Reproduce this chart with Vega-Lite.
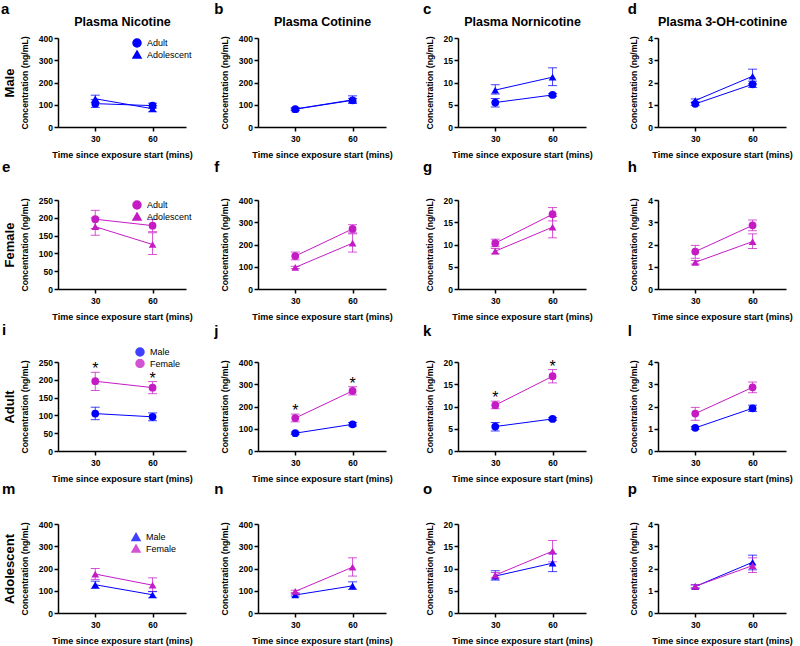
{
"$schema": "https://vega.github.io/schema/vega-lite/v6.json",
"padding": {"left": 1, "top": 2, "right": 5, "bottom": 3},
"data": {"values": [
{"analyte":"Nicotine","sex":"Male","age":"Adult","time":30,"mean":105,"lo":88,"hi":123},
{"analyte":"Nicotine","sex":"Male","age":"Adult","time":60,"mean":96,"lo":85,"hi":107},
{"analyte":"Nicotine","sex":"Male","age":"Adolescent","time":30,"mean":127,"lo":110,"hi":143},
{"analyte":"Nicotine","sex":"Male","age":"Adolescent","time":60,"mean":82,"lo":68,"hi":96},
{"analyte":"Nicotine","sex":"Female","age":"Adult","time":30,"mean":196,"lo":170,"hi":221,"sig":"*"},
{"analyte":"Nicotine","sex":"Female","age":"Adult","time":60,"mean":178,"lo":161,"hi":195,"sig":"*"},
{"analyte":"Nicotine","sex":"Female","age":"Adolescent","time":30,"mean":175,"lo":151,"hi":200},
{"analyte":"Nicotine","sex":"Female","age":"Adolescent","time":60,"mean":125,"lo":97,"hi":158},
{"analyte":"Cotinine","sex":"Male","age":"Adult","time":30,"mean":80,"lo":75,"hi":85},
{"analyte":"Cotinine","sex":"Male","age":"Adult","time":60,"mean":120,"lo":112,"hi":128},
{"analyte":"Cotinine","sex":"Male","age":"Adolescent","time":30,"mean":81,"lo":76,"hi":86},
{"analyte":"Cotinine","sex":"Male","age":"Adolescent","time":60,"mean":122,"lo":106,"hi":140},
{"analyte":"Cotinine","sex":"Female","age":"Adult","time":30,"mean":148,"lo":131,"hi":166,"sig":"*"},
{"analyte":"Cotinine","sex":"Female","age":"Adult","time":60,"mean":270,"lo":252,"hi":289,"sig":"*"},
{"analyte":"Cotinine","sex":"Female","age":"Adolescent","time":30,"mean":97,"lo":92,"hi":102},
{"analyte":"Cotinine","sex":"Female","age":"Adolescent","time":60,"mean":206,"lo":166,"hi":248},
{"analyte":"Nornicotine","sex":"Male","age":"Adult","time":30,"mean":5.5,"lo":4.5,"hi":6.4},
{"analyte":"Nornicotine","sex":"Male","age":"Adult","time":60,"mean":7.2,"lo":6.9,"hi":7.5},
{"analyte":"Nornicotine","sex":"Male","age":"Adolescent","time":30,"mean":8.3,"lo":7.4,"hi":9.5},
{"analyte":"Nornicotine","sex":"Male","age":"Adolescent","time":60,"mean":11.2,"lo":9.3,"hi":13.3},
{"analyte":"Nornicotine","sex":"Female","age":"Adult","time":30,"mean":10.3,"lo":9.5,"hi":11.2,"sig":"*"},
{"analyte":"Nornicotine","sex":"Female","age":"Adult","time":60,"mean":16.8,"lo":15.3,"hi":18.3,"sig":"*"},
{"analyte":"Nornicotine","sex":"Female","age":"Adolescent","time":30,"mean":8.5,"lo":7.9,"hi":9.1},
{"analyte":"Nornicotine","sex":"Female","age":"Adolescent","time":60,"mean":13.9,"lo":11.5,"hi":16.3},
{"analyte":"OHCot","sex":"Male","age":"Adult","time":30,"mean":1.04,"lo":0.98,"hi":1.1},
{"analyte":"OHCot","sex":"Male","age":"Adult","time":60,"mean":1.92,"lo":1.78,"hi":2.06},
{"analyte":"OHCot","sex":"Male","age":"Adolescent","time":30,"mean":1.19,"lo":1.12,"hi":1.26},
{"analyte":"OHCot","sex":"Male","age":"Adolescent","time":60,"mean":2.28,"lo":1.94,"hi":2.6},
{"analyte":"OHCot","sex":"Female","age":"Adult","time":30,"mean":1.68,"lo":1.38,"hi":1.96},
{"analyte":"OHCot","sex":"Female","age":"Adult","time":60,"mean":2.86,"lo":2.62,"hi":3.1},
{"analyte":"OHCot","sex":"Female","age":"Adolescent","time":30,"mean":1.2,"lo":1.12,"hi":1.28},
{"analyte":"OHCot","sex":"Female","age":"Adolescent","time":60,"mean":2.13,"lo":1.82,"hi":2.48}
]},
"columns": 4,
"spacing": {"row": 73, "column": 72},
"bounds": "flush",
"resolve": {"scale": {"color": "independent", "shape": "independent"}, "legend": {"color": "independent", "shape": "independent"}},
"concat": [
{"width":128,"height":89,"title":{"text":"a","dx":-2,"offset":-2},
"transform":[{"filter":"datum.analyte==='Nicotine' && datum.sex==='Male'"}],
"resolve":{"axis":{"x":"independent","y":"independent"}},
"layer":[
{"mark":{"type":"rule","strokeWidth":1,"opacity":0.75},"encoding":{"x":{"field":"time","type":"quantitative","scale":{"domain":[10.5,77.5],"nice":false,"zero":false},"axis":{"values":[30,60],"title":"Time since exposure start (mins)"}},"y":{"field":"lo","type":"quantitative","scale":{"domain":[0,400],"nice":false},"axis":{"values":[0,100,200,300,400],"title":"Concentration (ng/mL)"}},"y2":{"field":"hi"},"color":{"field":"sex","type":"nominal","scale":{"domain":["Male","Female"],"range":["#0000ff","#c51bc5"]},"legend":null}}},
{"mark":{"type":"tick","orient":"horizontal","size":9,"thickness":1,"opacity":0.75},"encoding":{"x":{"field":"time","type":"quantitative","axis":null},"y":{"field":"lo","type":"quantitative","axis":null},"color":{"field":"sex","type":"nominal","legend":null}}},
{"mark":{"type":"tick","orient":"horizontal","size":9,"thickness":1,"opacity":0.75},"encoding":{"x":{"field":"time","type":"quantitative","axis":null},"y":{"field":"hi","type":"quantitative","axis":null},"color":{"field":"sex","type":"nominal","legend":null}}},
{"mark":{"type":"line","strokeWidth":1},"encoding":{"x":{"field":"time","type":"quantitative","axis":null},"y":{"field":"mean","type":"quantitative","axis":null},"color":{"field":"sex","type":"nominal","legend":null},"detail":{"field":"age"}}},
{"mark":{"type":"point","filled":true,"size":60,"opacity":1},"encoding":{"x":{"field":"time","type":"quantitative","axis":{"orient":"top","title":"Plasma Nicotine","labels":false,"ticks":false,"domain":false,"titleFontSize":12.5,"titlePadding":10}},"y":{"field":"mean","type":"quantitative","axis":{"orient":"left","title":"Male","labels":false,"ticks":false,"domain":false,"titleFontSize":13,"titlePadding":42}},"color":{"field":"sex","type":"nominal","legend":null},"shape":{"field":"age","type":"nominal","scale":{"domain":["Adult","Adolescent"],"range":["circle","triangle-up"]},"legend":{"orient":"none","legendX":74,"legendY":0,"title":null,"symbolFillColor":"#0000ff","symbolStrokeColor":"#0000ff","symbolOpacity":1}}}}
]},
{"width":128,"height":89,"title":{"text":"b","dx":-6,"offset":-2},
"transform":[{"filter":"datum.analyte==='Cotinine' && datum.sex==='Male'"}],
"resolve":{"axis":{"x":"independent","y":"independent"}},
"layer":[
{"mark":{"type":"rule","strokeWidth":1,"opacity":0.75},"encoding":{"x":{"field":"time","type":"quantitative","scale":{"domain":[10.5,77.5],"nice":false,"zero":false},"axis":{"values":[30,60],"title":"Time since exposure start (mins)"}},"y":{"field":"lo","type":"quantitative","scale":{"domain":[0,400],"nice":false},"axis":{"values":[0,100,200,300,400],"title":"Concentration (ng/mL)"}},"y2":{"field":"hi"},"color":{"field":"sex","type":"nominal","scale":{"domain":["Male","Female"],"range":["#0000ff","#c51bc5"]},"legend":null}}},
{"mark":{"type":"tick","orient":"horizontal","size":9,"thickness":1,"opacity":0.75},"encoding":{"x":{"field":"time","type":"quantitative","axis":null},"y":{"field":"lo","type":"quantitative","axis":null},"color":{"field":"sex","type":"nominal","legend":null}}},
{"mark":{"type":"tick","orient":"horizontal","size":9,"thickness":1,"opacity":0.75},"encoding":{"x":{"field":"time","type":"quantitative","axis":null},"y":{"field":"hi","type":"quantitative","axis":null},"color":{"field":"sex","type":"nominal","legend":null}}},
{"mark":{"type":"line","strokeWidth":1},"encoding":{"x":{"field":"time","type":"quantitative","axis":null},"y":{"field":"mean","type":"quantitative","axis":null},"color":{"field":"sex","type":"nominal","legend":null},"detail":{"field":"age"}}},
{"mark":{"type":"point","filled":true,"size":60,"opacity":1},"encoding":{"x":{"field":"time","type":"quantitative","axis":{"orient":"top","title":"Plasma Cotinine","labels":false,"ticks":false,"domain":false,"titleFontSize":12.5,"titlePadding":10}},"y":{"field":"mean","type":"quantitative","axis":null},"color":{"field":"sex","type":"nominal","legend":null},"shape":{"field":"age","type":"nominal","scale":{"domain":["Adult","Adolescent"],"range":["circle","triangle-up"]},"legend":null}}}
]},
{"width":128,"height":89,"title":{"text":"c","dx":-2,"offset":-2},
"transform":[{"filter":"datum.analyte==='Nornicotine' && datum.sex==='Male'"}],
"resolve":{"axis":{"x":"independent","y":"independent"}},
"layer":[
{"mark":{"type":"rule","strokeWidth":1,"opacity":0.75},"encoding":{"x":{"field":"time","type":"quantitative","scale":{"domain":[10.5,77.5],"nice":false,"zero":false},"axis":{"values":[30,60],"title":"Time since exposure start (mins)"}},"y":{"field":"lo","type":"quantitative","scale":{"domain":[0,20],"nice":false},"axis":{"values":[0,5,10,15,20],"title":"Concentration (ng/mL)"}},"y2":{"field":"hi"},"color":{"field":"sex","type":"nominal","scale":{"domain":["Male","Female"],"range":["#0000ff","#c51bc5"]},"legend":null}}},
{"mark":{"type":"tick","orient":"horizontal","size":9,"thickness":1,"opacity":0.75},"encoding":{"x":{"field":"time","type":"quantitative","axis":null},"y":{"field":"lo","type":"quantitative","axis":null},"color":{"field":"sex","type":"nominal","legend":null}}},
{"mark":{"type":"tick","orient":"horizontal","size":9,"thickness":1,"opacity":0.75},"encoding":{"x":{"field":"time","type":"quantitative","axis":null},"y":{"field":"hi","type":"quantitative","axis":null},"color":{"field":"sex","type":"nominal","legend":null}}},
{"mark":{"type":"line","strokeWidth":1},"encoding":{"x":{"field":"time","type":"quantitative","axis":null},"y":{"field":"mean","type":"quantitative","axis":null},"color":{"field":"sex","type":"nominal","legend":null},"detail":{"field":"age"}}},
{"mark":{"type":"point","filled":true,"size":60,"opacity":1},"encoding":{"x":{"field":"time","type":"quantitative","axis":{"orient":"top","title":"Plasma Nornicotine","labels":false,"ticks":false,"domain":false,"titleFontSize":12.5,"titlePadding":10}},"y":{"field":"mean","type":"quantitative","axis":null},"color":{"field":"sex","type":"nominal","legend":null},"shape":{"field":"age","type":"nominal","scale":{"domain":["Adult","Adolescent"],"range":["circle","triangle-up"]},"legend":null}}}
]},
{"width":128,"height":89,"title":{"text":"d","dx":-2,"offset":-2},
"transform":[{"filter":"datum.analyte==='OHCot' && datum.sex==='Male'"}],
"resolve":{"axis":{"x":"independent","y":"independent"}},
"layer":[
{"mark":{"type":"rule","strokeWidth":1,"opacity":0.75},"encoding":{"x":{"field":"time","type":"quantitative","scale":{"domain":[10.5,77.5],"nice":false,"zero":false},"axis":{"values":[30,60],"title":"Time since exposure start (mins)"}},"y":{"field":"lo","type":"quantitative","scale":{"domain":[0,4],"nice":false},"axis":{"values":[0,1,2,3,4],"title":"Concentration (ng/mL)"}},"y2":{"field":"hi"},"color":{"field":"sex","type":"nominal","scale":{"domain":["Male","Female"],"range":["#0000ff","#c51bc5"]},"legend":null}}},
{"mark":{"type":"tick","orient":"horizontal","size":9,"thickness":1,"opacity":0.75},"encoding":{"x":{"field":"time","type":"quantitative","axis":null},"y":{"field":"lo","type":"quantitative","axis":null},"color":{"field":"sex","type":"nominal","legend":null}}},
{"mark":{"type":"tick","orient":"horizontal","size":9,"thickness":1,"opacity":0.75},"encoding":{"x":{"field":"time","type":"quantitative","axis":null},"y":{"field":"hi","type":"quantitative","axis":null},"color":{"field":"sex","type":"nominal","legend":null}}},
{"mark":{"type":"line","strokeWidth":1},"encoding":{"x":{"field":"time","type":"quantitative","axis":null},"y":{"field":"mean","type":"quantitative","axis":null},"color":{"field":"sex","type":"nominal","legend":null},"detail":{"field":"age"}}},
{"mark":{"type":"point","filled":true,"size":60,"opacity":1},"encoding":{"x":{"field":"time","type":"quantitative","axis":{"orient":"top","title":"Plasma 3-OH-cotinine","labels":false,"ticks":false,"domain":false,"titleFontSize":12.5,"titlePadding":10}},"y":{"field":"mean","type":"quantitative","axis":null},"color":{"field":"sex","type":"nominal","legend":null},"shape":{"field":"age","type":"nominal","scale":{"domain":["Adult","Adolescent"],"range":["circle","triangle-up"]},"legend":null}}}
]},
{"width":128,"height":89,"title":{"text":"e","dx":-1,"offset":21.5},
"transform":[{"filter":"datum.analyte==='Nicotine' && datum.sex==='Female'"}],
"resolve":{"axis":{"x":"independent","y":"independent"}},
"layer":[
{"mark":{"type":"rule","strokeWidth":1,"opacity":0.75},"encoding":{"x":{"field":"time","type":"quantitative","scale":{"domain":[10.5,77.5],"nice":false,"zero":false},"axis":{"values":[30,60],"title":"Time since exposure start (mins)"}},"y":{"field":"lo","type":"quantitative","scale":{"domain":[0,250],"nice":false},"axis":{"values":[0,50,100,150,200,250],"title":"Concentration (ng/mL)"}},"y2":{"field":"hi"},"color":{"field":"sex","type":"nominal","scale":{"domain":["Male","Female"],"range":["#0000ff","#c51bc5"]},"legend":null}}},
{"mark":{"type":"tick","orient":"horizontal","size":9,"thickness":1,"opacity":0.75},"encoding":{"x":{"field":"time","type":"quantitative","axis":null},"y":{"field":"lo","type":"quantitative","axis":null},"color":{"field":"sex","type":"nominal","legend":null}}},
{"mark":{"type":"tick","orient":"horizontal","size":9,"thickness":1,"opacity":0.75},"encoding":{"x":{"field":"time","type":"quantitative","axis":null},"y":{"field":"hi","type":"quantitative","axis":null},"color":{"field":"sex","type":"nominal","legend":null}}},
{"mark":{"type":"line","strokeWidth":1},"encoding":{"x":{"field":"time","type":"quantitative","axis":null},"y":{"field":"mean","type":"quantitative","axis":null},"color":{"field":"sex","type":"nominal","legend":null},"detail":{"field":"age"}}},
{"mark":{"type":"point","filled":true,"size":60,"opacity":1},"encoding":{"x":{"field":"time","type":"quantitative","axis":null},"y":{"field":"mean","type":"quantitative","axis":{"orient":"left","title":"Female","labels":false,"ticks":false,"domain":false,"titleFontSize":13,"titlePadding":42}},"color":{"field":"sex","type":"nominal","legend":null},"shape":{"field":"age","type":"nominal","scale":{"domain":["Adult","Adolescent"],"range":["circle","triangle-up"]},"legend":{"orient":"none","legendX":74,"legendY":0,"title":null,"symbolFillColor":"#c51bc5","symbolStrokeColor":"#c51bc5","symbolOpacity":1}}}}
]},
{"width":128,"height":89,"title":{"text":"f","dx":-6,"offset":21.5},
"transform":[{"filter":"datum.analyte==='Cotinine' && datum.sex==='Female'"}],
"resolve":{"axis":{"x":"independent","y":"independent"}},
"layer":[
{"mark":{"type":"rule","strokeWidth":1,"opacity":0.75},"encoding":{"x":{"field":"time","type":"quantitative","scale":{"domain":[10.5,77.5],"nice":false,"zero":false},"axis":{"values":[30,60],"title":"Time since exposure start (mins)"}},"y":{"field":"lo","type":"quantitative","scale":{"domain":[0,400],"nice":false},"axis":{"values":[0,100,200,300,400],"title":"Concentration (ng/mL)"}},"y2":{"field":"hi"},"color":{"field":"sex","type":"nominal","scale":{"domain":["Male","Female"],"range":["#0000ff","#c51bc5"]},"legend":null}}},
{"mark":{"type":"tick","orient":"horizontal","size":9,"thickness":1,"opacity":0.75},"encoding":{"x":{"field":"time","type":"quantitative","axis":null},"y":{"field":"lo","type":"quantitative","axis":null},"color":{"field":"sex","type":"nominal","legend":null}}},
{"mark":{"type":"tick","orient":"horizontal","size":9,"thickness":1,"opacity":0.75},"encoding":{"x":{"field":"time","type":"quantitative","axis":null},"y":{"field":"hi","type":"quantitative","axis":null},"color":{"field":"sex","type":"nominal","legend":null}}},
{"mark":{"type":"line","strokeWidth":1},"encoding":{"x":{"field":"time","type":"quantitative","axis":null},"y":{"field":"mean","type":"quantitative","axis":null},"color":{"field":"sex","type":"nominal","legend":null},"detail":{"field":"age"}}},
{"mark":{"type":"point","filled":true,"size":60,"opacity":1},"encoding":{"x":{"field":"time","type":"quantitative","axis":null},"y":{"field":"mean","type":"quantitative","axis":null},"color":{"field":"sex","type":"nominal","legend":null},"shape":{"field":"age","type":"nominal","scale":{"domain":["Adult","Adolescent"],"range":["circle","triangle-up"]},"legend":null}}}
]},
{"width":128,"height":89,"title":{"text":"g","dx":-2,"offset":21.5},
"transform":[{"filter":"datum.analyte==='Nornicotine' && datum.sex==='Female'"}],
"resolve":{"axis":{"x":"independent","y":"independent"}},
"layer":[
{"mark":{"type":"rule","strokeWidth":1,"opacity":0.75},"encoding":{"x":{"field":"time","type":"quantitative","scale":{"domain":[10.5,77.5],"nice":false,"zero":false},"axis":{"values":[30,60],"title":"Time since exposure start (mins)"}},"y":{"field":"lo","type":"quantitative","scale":{"domain":[0,20],"nice":false},"axis":{"values":[0,5,10,15,20],"title":"Concentration (ng/mL)"}},"y2":{"field":"hi"},"color":{"field":"sex","type":"nominal","scale":{"domain":["Male","Female"],"range":["#0000ff","#c51bc5"]},"legend":null}}},
{"mark":{"type":"tick","orient":"horizontal","size":9,"thickness":1,"opacity":0.75},"encoding":{"x":{"field":"time","type":"quantitative","axis":null},"y":{"field":"lo","type":"quantitative","axis":null},"color":{"field":"sex","type":"nominal","legend":null}}},
{"mark":{"type":"tick","orient":"horizontal","size":9,"thickness":1,"opacity":0.75},"encoding":{"x":{"field":"time","type":"quantitative","axis":null},"y":{"field":"hi","type":"quantitative","axis":null},"color":{"field":"sex","type":"nominal","legend":null}}},
{"mark":{"type":"line","strokeWidth":1},"encoding":{"x":{"field":"time","type":"quantitative","axis":null},"y":{"field":"mean","type":"quantitative","axis":null},"color":{"field":"sex","type":"nominal","legend":null},"detail":{"field":"age"}}},
{"mark":{"type":"point","filled":true,"size":60,"opacity":1},"encoding":{"x":{"field":"time","type":"quantitative","axis":null},"y":{"field":"mean","type":"quantitative","axis":null},"color":{"field":"sex","type":"nominal","legend":null},"shape":{"field":"age","type":"nominal","scale":{"domain":["Adult","Adolescent"],"range":["circle","triangle-up"]},"legend":null}}}
]},
{"width":128,"height":89,"title":{"text":"h","dx":-2,"offset":21.5},
"transform":[{"filter":"datum.analyte==='OHCot' && datum.sex==='Female'"}],
"resolve":{"axis":{"x":"independent","y":"independent"}},
"layer":[
{"mark":{"type":"rule","strokeWidth":1,"opacity":0.75},"encoding":{"x":{"field":"time","type":"quantitative","scale":{"domain":[10.5,77.5],"nice":false,"zero":false},"axis":{"values":[30,60],"title":"Time since exposure start (mins)"}},"y":{"field":"lo","type":"quantitative","scale":{"domain":[0,4],"nice":false},"axis":{"values":[0,1,2,3,4],"title":"Concentration (ng/mL)"}},"y2":{"field":"hi"},"color":{"field":"sex","type":"nominal","scale":{"domain":["Male","Female"],"range":["#0000ff","#c51bc5"]},"legend":null}}},
{"mark":{"type":"tick","orient":"horizontal","size":9,"thickness":1,"opacity":0.75},"encoding":{"x":{"field":"time","type":"quantitative","axis":null},"y":{"field":"lo","type":"quantitative","axis":null},"color":{"field":"sex","type":"nominal","legend":null}}},
{"mark":{"type":"tick","orient":"horizontal","size":9,"thickness":1,"opacity":0.75},"encoding":{"x":{"field":"time","type":"quantitative","axis":null},"y":{"field":"hi","type":"quantitative","axis":null},"color":{"field":"sex","type":"nominal","legend":null}}},
{"mark":{"type":"line","strokeWidth":1},"encoding":{"x":{"field":"time","type":"quantitative","axis":null},"y":{"field":"mean","type":"quantitative","axis":null},"color":{"field":"sex","type":"nominal","legend":null},"detail":{"field":"age"}}},
{"mark":{"type":"point","filled":true,"size":60,"opacity":1},"encoding":{"x":{"field":"time","type":"quantitative","axis":null},"y":{"field":"mean","type":"quantitative","axis":null},"color":{"field":"sex","type":"nominal","legend":null},"shape":{"field":"age","type":"nominal","scale":{"domain":["Adult","Adolescent"],"range":["circle","triangle-up"]},"legend":null}}}
]},
{"width":128,"height":89,"title":{"text":"i","dx":-1,"offset":9},
"transform":[{"filter":"datum.analyte==='Nicotine' && datum.age==='Adult'"}],
"resolve":{"axis":{"x":"independent","y":"independent"}},
"layer":[
{"mark":{"type":"rule","strokeWidth":1,"opacity":0.75},"encoding":{"x":{"field":"time","type":"quantitative","scale":{"domain":[10.5,77.5],"nice":false,"zero":false},"axis":{"values":[30,60],"title":"Time since exposure start (mins)"}},"y":{"field":"lo","type":"quantitative","scale":{"domain":[0,250],"nice":false},"axis":{"values":[0,50,100,150,200,250],"title":"Concentration (ng/mL)"}},"y2":{"field":"hi"},"color":{"field":"sex","type":"nominal","scale":{"domain":["Male","Female"],"range":["#0000ff","#c51bc5"]}}}},
{"mark":{"type":"tick","orient":"horizontal","size":9,"thickness":1,"opacity":0.75},"encoding":{"x":{"field":"time","type":"quantitative","axis":null},"y":{"field":"lo","type":"quantitative","axis":null},"color":{"field":"sex","type":"nominal"}}},
{"mark":{"type":"tick","orient":"horizontal","size":9,"thickness":1,"opacity":0.75},"encoding":{"x":{"field":"time","type":"quantitative","axis":null},"y":{"field":"hi","type":"quantitative","axis":null},"color":{"field":"sex","type":"nominal"}}},
{"mark":{"type":"line","strokeWidth":1},"encoding":{"x":{"field":"time","type":"quantitative","axis":null},"y":{"field":"mean","type":"quantitative","axis":null},"color":{"field":"sex","type":"nominal"},"detail":{"field":"age"}}},
{"mark":{"type":"point","filled":true,"size":60,"opacity":1},"encoding":{"x":{"field":"time","type":"quantitative","axis":null},"y":{"field":"mean","type":"quantitative","axis":{"orient":"left","title":"Adult","labels":false,"ticks":false,"domain":false,"titleFontSize":13,"titlePadding":42}},"color":{"field":"sex","type":"nominal","legend":{"orient":"none","legendX":77,"legendY":-15,"title":null,"symbolType":"circle","symbolOpacity":1}},"shape":{"field":"age","type":"nominal","scale":{"domain":["Adult","Adolescent"],"range":["circle","triangle-up"]},"legend":null}}},
{"transform":[{"filter":"datum.sig === '*'"}],"mark":{"type":"text","fontSize":16,"baseline":"alphabetic","dy":2,"color":"black"},"encoding":{"x":{"field":"time","type":"quantitative","axis":null},"y":{"field":"hi","type":"quantitative","axis":null},"text":{"field":"sig"}}}
]},
{"width":128,"height":89,"title":{"text":"j","dx":-6,"offset":19.5},
"transform":[{"filter":"datum.analyte==='Cotinine' && datum.age==='Adult'"}],
"resolve":{"axis":{"x":"independent","y":"independent"}},
"layer":[
{"mark":{"type":"rule","strokeWidth":1,"opacity":0.75},"encoding":{"x":{"field":"time","type":"quantitative","scale":{"domain":[10.5,77.5],"nice":false,"zero":false},"axis":{"values":[30,60],"title":"Time since exposure start (mins)"}},"y":{"field":"lo","type":"quantitative","scale":{"domain":[0,400],"nice":false},"axis":{"values":[0,100,200,300,400],"title":"Concentration (ng/mL)"}},"y2":{"field":"hi"},"color":{"field":"sex","type":"nominal","scale":{"domain":["Male","Female"],"range":["#0000ff","#c51bc5"]},"legend":null}}},
{"mark":{"type":"tick","orient":"horizontal","size":9,"thickness":1,"opacity":0.75},"encoding":{"x":{"field":"time","type":"quantitative","axis":null},"y":{"field":"lo","type":"quantitative","axis":null},"color":{"field":"sex","type":"nominal","legend":null}}},
{"mark":{"type":"tick","orient":"horizontal","size":9,"thickness":1,"opacity":0.75},"encoding":{"x":{"field":"time","type":"quantitative","axis":null},"y":{"field":"hi","type":"quantitative","axis":null},"color":{"field":"sex","type":"nominal","legend":null}}},
{"mark":{"type":"line","strokeWidth":1},"encoding":{"x":{"field":"time","type":"quantitative","axis":null},"y":{"field":"mean","type":"quantitative","axis":null},"color":{"field":"sex","type":"nominal","legend":null},"detail":{"field":"age"}}},
{"mark":{"type":"point","filled":true,"size":60,"opacity":1},"encoding":{"x":{"field":"time","type":"quantitative","axis":null},"y":{"field":"mean","type":"quantitative","axis":null},"color":{"field":"sex","type":"nominal","legend":null},"shape":{"field":"age","type":"nominal","scale":{"domain":["Adult","Adolescent"],"range":["circle","triangle-up"]},"legend":null}}},
{"transform":[{"filter":"datum.sig === '*'"}],"mark":{"type":"text","fontSize":16,"baseline":"alphabetic","dy":2,"color":"black"},"encoding":{"x":{"field":"time","type":"quantitative","axis":null},"y":{"field":"hi","type":"quantitative","axis":null},"text":{"field":"sig"}}}
]},
{"width":128,"height":89,"title":{"text":"k","dx":-2,"offset":19.5},
"transform":[{"filter":"datum.analyte==='Nornicotine' && datum.age==='Adult'"}],
"resolve":{"axis":{"x":"independent","y":"independent"}},
"layer":[
{"mark":{"type":"rule","strokeWidth":1,"opacity":0.75},"encoding":{"x":{"field":"time","type":"quantitative","scale":{"domain":[10.5,77.5],"nice":false,"zero":false},"axis":{"values":[30,60],"title":"Time since exposure start (mins)"}},"y":{"field":"lo","type":"quantitative","scale":{"domain":[0,20],"nice":false},"axis":{"values":[0,5,10,15,20],"title":"Concentration (ng/mL)"}},"y2":{"field":"hi"},"color":{"field":"sex","type":"nominal","scale":{"domain":["Male","Female"],"range":["#0000ff","#c51bc5"]},"legend":null}}},
{"mark":{"type":"tick","orient":"horizontal","size":9,"thickness":1,"opacity":0.75},"encoding":{"x":{"field":"time","type":"quantitative","axis":null},"y":{"field":"lo","type":"quantitative","axis":null},"color":{"field":"sex","type":"nominal","legend":null}}},
{"mark":{"type":"tick","orient":"horizontal","size":9,"thickness":1,"opacity":0.75},"encoding":{"x":{"field":"time","type":"quantitative","axis":null},"y":{"field":"hi","type":"quantitative","axis":null},"color":{"field":"sex","type":"nominal","legend":null}}},
{"mark":{"type":"line","strokeWidth":1},"encoding":{"x":{"field":"time","type":"quantitative","axis":null},"y":{"field":"mean","type":"quantitative","axis":null},"color":{"field":"sex","type":"nominal","legend":null},"detail":{"field":"age"}}},
{"mark":{"type":"point","filled":true,"size":60,"opacity":1},"encoding":{"x":{"field":"time","type":"quantitative","axis":null},"y":{"field":"mean","type":"quantitative","axis":null},"color":{"field":"sex","type":"nominal","legend":null},"shape":{"field":"age","type":"nominal","scale":{"domain":["Adult","Adolescent"],"range":["circle","triangle-up"]},"legend":null}}},
{"transform":[{"filter":"datum.sig === '*'"}],"mark":{"type":"text","fontSize":16,"baseline":"alphabetic","dy":2,"color":"black"},"encoding":{"x":{"field":"time","type":"quantitative","axis":null},"y":{"field":"hi","type":"quantitative","axis":null},"text":{"field":"sig"}}}
]},
{"width":128,"height":89,"title":{"text":"l","dx":-2,"offset":19.5},
"transform":[{"filter":"datum.analyte==='OHCot' && datum.age==='Adult'"}],
"resolve":{"axis":{"x":"independent","y":"independent"}},
"layer":[
{"mark":{"type":"rule","strokeWidth":1,"opacity":0.75},"encoding":{"x":{"field":"time","type":"quantitative","scale":{"domain":[10.5,77.5],"nice":false,"zero":false},"axis":{"values":[30,60],"title":"Time since exposure start (mins)"}},"y":{"field":"lo","type":"quantitative","scale":{"domain":[0,4],"nice":false},"axis":{"values":[0,1,2,3,4],"title":"Concentration (ng/mL)"}},"y2":{"field":"hi"},"color":{"field":"sex","type":"nominal","scale":{"domain":["Male","Female"],"range":["#0000ff","#c51bc5"]},"legend":null}}},
{"mark":{"type":"tick","orient":"horizontal","size":9,"thickness":1,"opacity":0.75},"encoding":{"x":{"field":"time","type":"quantitative","axis":null},"y":{"field":"lo","type":"quantitative","axis":null},"color":{"field":"sex","type":"nominal","legend":null}}},
{"mark":{"type":"tick","orient":"horizontal","size":9,"thickness":1,"opacity":0.75},"encoding":{"x":{"field":"time","type":"quantitative","axis":null},"y":{"field":"hi","type":"quantitative","axis":null},"color":{"field":"sex","type":"nominal","legend":null}}},
{"mark":{"type":"line","strokeWidth":1},"encoding":{"x":{"field":"time","type":"quantitative","axis":null},"y":{"field":"mean","type":"quantitative","axis":null},"color":{"field":"sex","type":"nominal","legend":null},"detail":{"field":"age"}}},
{"mark":{"type":"point","filled":true,"size":60,"opacity":1},"encoding":{"x":{"field":"time","type":"quantitative","axis":null},"y":{"field":"mean","type":"quantitative","axis":null},"color":{"field":"sex","type":"nominal","legend":null},"shape":{"field":"age","type":"nominal","scale":{"domain":["Adult","Adolescent"],"range":["circle","triangle-up"]},"legend":null}}}
]},
{"width":128,"height":89,"title":{"text":"m","dx":-1,"offset":23.5},
"transform":[{"filter":"datum.analyte==='Nicotine' && datum.age==='Adolescent'"}],
"resolve":{"axis":{"x":"independent","y":"independent"}},
"layer":[
{"mark":{"type":"rule","strokeWidth":1,"opacity":0.75},"encoding":{"x":{"field":"time","type":"quantitative","scale":{"domain":[10.5,77.5],"nice":false,"zero":false},"axis":{"values":[30,60],"title":"Time since exposure start (mins)"}},"y":{"field":"lo","type":"quantitative","scale":{"domain":[0,400],"nice":false},"axis":{"values":[0,100,200,300,400],"title":"Concentration (ng/mL)"}},"y2":{"field":"hi"},"color":{"field":"sex","type":"nominal","scale":{"domain":["Male","Female"],"range":["#0000ff","#c51bc5"]}}}},
{"mark":{"type":"tick","orient":"horizontal","size":9,"thickness":1,"opacity":0.75},"encoding":{"x":{"field":"time","type":"quantitative","axis":null},"y":{"field":"lo","type":"quantitative","axis":null},"color":{"field":"sex","type":"nominal"}}},
{"mark":{"type":"tick","orient":"horizontal","size":9,"thickness":1,"opacity":0.75},"encoding":{"x":{"field":"time","type":"quantitative","axis":null},"y":{"field":"hi","type":"quantitative","axis":null},"color":{"field":"sex","type":"nominal"}}},
{"mark":{"type":"line","strokeWidth":1},"encoding":{"x":{"field":"time","type":"quantitative","axis":null},"y":{"field":"mean","type":"quantitative","axis":null},"color":{"field":"sex","type":"nominal"},"detail":{"field":"age"}}},
{"mark":{"type":"point","filled":true,"size":60,"opacity":1},"encoding":{"x":{"field":"time","type":"quantitative","axis":null},"y":{"field":"mean","type":"quantitative","axis":{"orient":"left","title":"Adolescent","labels":false,"ticks":false,"domain":false,"titleFontSize":13,"titlePadding":42}},"color":{"field":"sex","type":"nominal","legend":{"orient":"none","legendX":73,"legendY":8,"title":null,"symbolType":"triangle-up","symbolOpacity":1}},"shape":{"field":"age","type":"nominal","scale":{"domain":["Adult","Adolescent"],"range":["circle","triangle-up"]},"legend":null}}}
]},
{"width":128,"height":89,"title":{"text":"n","dx":-6,"offset":23.5},
"transform":[{"filter":"datum.analyte==='Cotinine' && datum.age==='Adolescent'"}],
"resolve":{"axis":{"x":"independent","y":"independent"}},
"layer":[
{"mark":{"type":"rule","strokeWidth":1,"opacity":0.75},"encoding":{"x":{"field":"time","type":"quantitative","scale":{"domain":[10.5,77.5],"nice":false,"zero":false},"axis":{"values":[30,60],"title":"Time since exposure start (mins)"}},"y":{"field":"lo","type":"quantitative","scale":{"domain":[0,400],"nice":false},"axis":{"values":[0,100,200,300,400],"title":"Concentration (ng/mL)"}},"y2":{"field":"hi"},"color":{"field":"sex","type":"nominal","scale":{"domain":["Male","Female"],"range":["#0000ff","#c51bc5"]},"legend":null}}},
{"mark":{"type":"tick","orient":"horizontal","size":9,"thickness":1,"opacity":0.75},"encoding":{"x":{"field":"time","type":"quantitative","axis":null},"y":{"field":"lo","type":"quantitative","axis":null},"color":{"field":"sex","type":"nominal","legend":null}}},
{"mark":{"type":"tick","orient":"horizontal","size":9,"thickness":1,"opacity":0.75},"encoding":{"x":{"field":"time","type":"quantitative","axis":null},"y":{"field":"hi","type":"quantitative","axis":null},"color":{"field":"sex","type":"nominal","legend":null}}},
{"mark":{"type":"line","strokeWidth":1},"encoding":{"x":{"field":"time","type":"quantitative","axis":null},"y":{"field":"mean","type":"quantitative","axis":null},"color":{"field":"sex","type":"nominal","legend":null},"detail":{"field":"age"}}},
{"mark":{"type":"point","filled":true,"size":60,"opacity":1},"encoding":{"x":{"field":"time","type":"quantitative","axis":null},"y":{"field":"mean","type":"quantitative","axis":null},"color":{"field":"sex","type":"nominal","legend":null},"shape":{"field":"age","type":"nominal","scale":{"domain":["Adult","Adolescent"],"range":["circle","triangle-up"]},"legend":null}}}
]},
{"width":128,"height":89,"title":{"text":"o","dx":-2,"offset":23.5},
"transform":[{"filter":"datum.analyte==='Nornicotine' && datum.age==='Adolescent'"}],
"resolve":{"axis":{"x":"independent","y":"independent"}},
"layer":[
{"mark":{"type":"rule","strokeWidth":1,"opacity":0.75},"encoding":{"x":{"field":"time","type":"quantitative","scale":{"domain":[10.5,77.5],"nice":false,"zero":false},"axis":{"values":[30,60],"title":"Time since exposure start (mins)"}},"y":{"field":"lo","type":"quantitative","scale":{"domain":[0,20],"nice":false},"axis":{"values":[0,5,10,15,20],"title":"Concentration (ng/mL)"}},"y2":{"field":"hi"},"color":{"field":"sex","type":"nominal","scale":{"domain":["Male","Female"],"range":["#0000ff","#c51bc5"]},"legend":null}}},
{"mark":{"type":"tick","orient":"horizontal","size":9,"thickness":1,"opacity":0.75},"encoding":{"x":{"field":"time","type":"quantitative","axis":null},"y":{"field":"lo","type":"quantitative","axis":null},"color":{"field":"sex","type":"nominal","legend":null}}},
{"mark":{"type":"tick","orient":"horizontal","size":9,"thickness":1,"opacity":0.75},"encoding":{"x":{"field":"time","type":"quantitative","axis":null},"y":{"field":"hi","type":"quantitative","axis":null},"color":{"field":"sex","type":"nominal","legend":null}}},
{"mark":{"type":"line","strokeWidth":1},"encoding":{"x":{"field":"time","type":"quantitative","axis":null},"y":{"field":"mean","type":"quantitative","axis":null},"color":{"field":"sex","type":"nominal","legend":null},"detail":{"field":"age"}}},
{"mark":{"type":"point","filled":true,"size":60,"opacity":1},"encoding":{"x":{"field":"time","type":"quantitative","axis":null},"y":{"field":"mean","type":"quantitative","axis":null},"color":{"field":"sex","type":"nominal","legend":null},"shape":{"field":"age","type":"nominal","scale":{"domain":["Adult","Adolescent"],"range":["circle","triangle-up"]},"legend":null}}}
]},
{"width":128,"height":89,"title":{"text":"p","dx":-2,"offset":23.5},
"transform":[{"filter":"datum.analyte==='OHCot' && datum.age==='Adolescent'"}],
"resolve":{"axis":{"x":"independent","y":"independent"}},
"layer":[
{"mark":{"type":"rule","strokeWidth":1,"opacity":0.75},"encoding":{"x":{"field":"time","type":"quantitative","scale":{"domain":[10.5,77.5],"nice":false,"zero":false},"axis":{"values":[30,60],"title":"Time since exposure start (mins)"}},"y":{"field":"lo","type":"quantitative","scale":{"domain":[0,4],"nice":false},"axis":{"values":[0,1,2,3,4],"title":"Concentration (ng/mL)"}},"y2":{"field":"hi"},"color":{"field":"sex","type":"nominal","scale":{"domain":["Male","Female"],"range":["#0000ff","#c51bc5"]},"legend":null}}},
{"mark":{"type":"tick","orient":"horizontal","size":9,"thickness":1,"opacity":0.75},"encoding":{"x":{"field":"time","type":"quantitative","axis":null},"y":{"field":"lo","type":"quantitative","axis":null},"color":{"field":"sex","type":"nominal","legend":null}}},
{"mark":{"type":"tick","orient":"horizontal","size":9,"thickness":1,"opacity":0.75},"encoding":{"x":{"field":"time","type":"quantitative","axis":null},"y":{"field":"hi","type":"quantitative","axis":null},"color":{"field":"sex","type":"nominal","legend":null}}},
{"mark":{"type":"line","strokeWidth":1},"encoding":{"x":{"field":"time","type":"quantitative","axis":null},"y":{"field":"mean","type":"quantitative","axis":null},"color":{"field":"sex","type":"nominal","legend":null},"detail":{"field":"age"}}},
{"mark":{"type":"point","filled":true,"size":60,"opacity":1},"encoding":{"x":{"field":"time","type":"quantitative","axis":null},"y":{"field":"mean","type":"quantitative","axis":null},"color":{"field":"sex","type":"nominal","legend":null},"shape":{"field":"age","type":"nominal","scale":{"domain":["Adult","Adolescent"],"range":["circle","triangle-up"]},"legend":null}}}
]}
],
"config": {
"font": "Liberation Sans",
"view": {"stroke": null},
"title": {"fontSize": 15, "fontWeight": "bold", "anchor": "start", "frame": "bounds", "color": "black", "font": "Liberation Sans"},
"axis": {"grid": false, "domainColor": "black", "domainWidth": 1.5, "tickColor": "black", "tickWidth": 1.5, "tickSize": 4, "labelColor": "black", "labelFontSize": 8.5, "labelFontWeight": "bold", "labelPadding": 1.5, "titleColor": "black", "titleFontWeight": "bold", "titleFontSize": 9, "titlePadding": 5, "labelFont": "Liberation Sans", "titleFont": "Liberation Sans"},
"axisX": {"labelPadding": 3, "titlePadding": 8},
"axisY": {"titleFontSize": 8.7, "titlePadding": 9},
"legend": {"labelFontSize": 9, "labelFont": "Liberation Sans", "labelColor": "black", "rowPadding": 1.5, "labelOffset": 5, "padding": 0, "symbolSize": 64, "clipHeight": 10}
}
}
